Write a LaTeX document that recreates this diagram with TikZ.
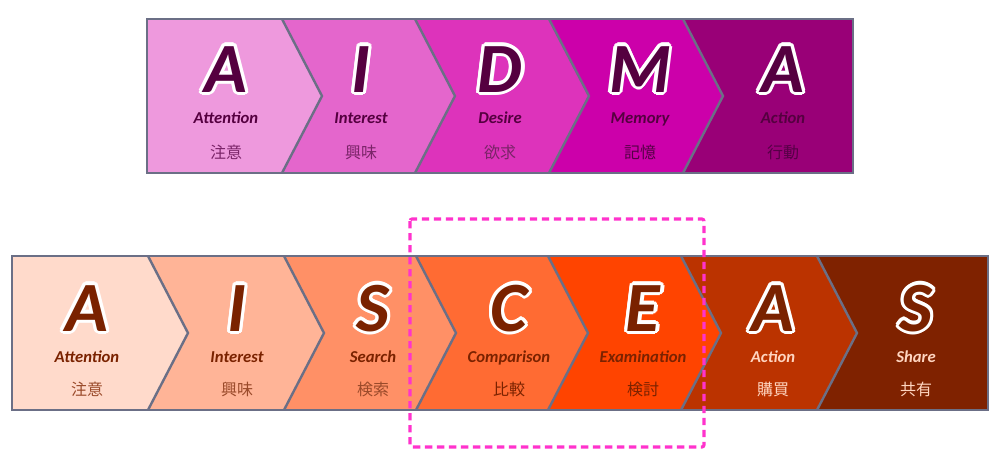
\documentclass[tikz,border=0pt]{standalone}
\usepackage{fontspec}
\usepackage{xcolor}
\usetikzlibrary{calc}
\setmainfont{Carlito}
\newfontfamily\jpfont{Noto Sans CJK JP}
\definecolor{framegray}{HTML}{6B6F86}
\definecolor{dashpink}{HTML}{FF33CC}
% AIDMA row
\definecolor{aidmaa}{HTML}{EE99DD}
\definecolor{aidmab}{HTML}{E466CC}
\definecolor{aidmac}{HTML}{DD33BB}
\definecolor{aidmad}{HTML}{CC00AA}
\definecolor{aidmae}{HTML}{990077}
\definecolor{aidmaink}{HTML}{550040}
\definecolor{aidmakanji}{HTML}{7A2468}
\definecolor{aidmadeep}{HTML}{560046}
% AISCEAS row
\definecolor{aisceasa}{HTML}{FFDACB}
\definecolor{aisceasb}{HTML}{FFB497}
\definecolor{aisceasc}{HTML}{FF9066}
\definecolor{aisceasd}{HTML}{FF6B33}
\definecolor{aiscease}{HTML}{FF4400}
\definecolor{aisceasf}{HTML}{BB3300}
\definecolor{aisceasg}{HTML}{7F2200}
\definecolor{aisceasink}{HTML}{7A2200}
\definecolor{aisceaskanji}{HTML}{9A4A2A}
\definecolor{aisceaslight}{HTML}{FFD5C0}
\tikzstyle{bigletter}=[
    font=\fontsize{53}{53}\selectfont\bfseries\itshape,
    inner sep=0pt,
    anchor=base
    ]
\tikzstyle{word}=[
    font=\fontsize{12.5}{13}\selectfont\bfseries\itshape,
    inner sep=0pt,
    anchor=base
    ]
\tikzstyle{kanji}=[
    font=\jpfont\fontsize{12}{12}\selectfont,
    inner sep=0pt
    ]
\tikzstyle{chevron}=[draw=framegray, line width=1.8pt]
\tikzstyle{frame}=[draw=framegray, line width=2.2pt]
\tikzstyle{dashbox}=[draw=dashpink, line width=2.3pt, dash pattern=on 5.5pt off 3.5pt, rounded corners=1.5pt]
\newcommand{\rimletter}[4]{% name, position, colour, letter
  \foreach \a in {0,30,...,330}
    \node[bigletter, text=white] (#1-\a) at ($(#2)+(\a:3.3)$) {#4};
  \node[bigletter, text=#3] (#1) at (#2) {#4};
}

\begin{document}
\begin{tikzpicture}[x=0.75pt, y=-0.75pt]
\useasboundingbox (0,0) rectangle (1000,465);

% AIDMA
\fill[aidmae] (147,19) rectangle (853,173);
\foreach \b/\c in {683/aidmad, 549/aidmac, 415/aidmab, 282/aidmaa}
  \fill[\c] (147,19) -- (\b,19) -- (\b+40,96) -- (\b,173) -- (147,173) -- cycle;
\foreach \b in {282,415,549,683}
  \draw[chevron] (\b,19) -- (\b+40,96) -- (\b,173);
\draw[frame] (147,19) rectangle (853,173);

\foreach \x/\l/\w/\j/\n/\k in {226/A/Attention/注意/1/aidmakanji,
    361/I/Interest/興味/2/aidmakanji, 500/D/Desire/欲求/3/aidmakanji,
    640/M/Memory/記憶/4/aidmadeep, 783/A/Action/行動/5/aidmadeep}{
  \rimletter{aidma\n}{\x,92}{aidmaink}{\l}
  \node[word, text=aidmaink] (aidmaword\n) at (\x,123) {\w};
  \node[kanji, text=\k] (aidmakanji\n) at (\x,152) {\j};
}

% AISCEAS
\fill[aisceasg] (12,256) rectangle (988,410);
\foreach \b/\c in {817/aisceasf, 681/aiscease, 548/aisceasd, 416/aisceasc, 284/aisceasb, 148/aisceasa}
  \fill[\c] (12,256) -- (\b,256) -- (\b+40,333) -- (\b,410) -- (12,410) -- cycle;
\foreach \b in {148,284,416,548,681,817}
  \draw[chevron] (\b,256) -- (\b+40,333) -- (\b,410);
\draw[frame] (12,256) rectangle (988,410);

\foreach \x/\l/\w/\j/\n/\t/\k in {87/A/Attention/注意/1/aisceasink/aisceaskanji,
    237/I/Interest/興味/2/aisceasink/aisceaskanji,
    373/S/Search/検索/3/aisceasink/aisceaskanji,
    509/C/Comparison/比較/4/aisceasink/aisceasink,
    643/E/Examination/検討/5/aisceasink/aisceasink,
    773/A/Action/購買/6/aisceaslight/aisceaslight,
    916/S/Share/共有/7/aisceaslight/aisceaslight}{
  \rimletter{aisceas\n}{\x,331}{aisceasink}{\l}
  \node[word, text=\t] (aisceasword\n) at (\x,362) {\w};
  \node[kanji, text=\k] (aisceaskanji\n) at (\x,389) {\j};
}

% comparison + examination
\draw[dashbox] (410,219) rectangle (704,447);
\end{tikzpicture}
\end{document}
